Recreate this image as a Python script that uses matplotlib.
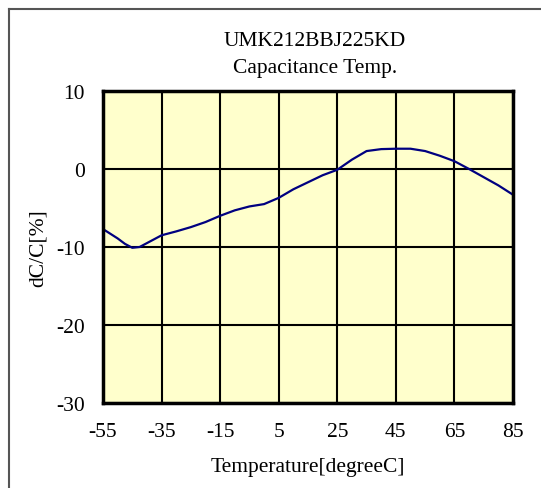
import matplotlib
matplotlib.use('Agg')
import matplotlib.pyplot as plt
from matplotlib.lines import Line2D

# Datos
temp = [-55, -50, -47.5, -45, -42.5, -40, -35, -30, -25, -20, -15, -10, -5, 0, 5,
        10, 15, 20, 25, 30, 35, 40, 45, 50, 55, 60, 65, 70, 75, 80, 85]
dcc = [-7.7, -8.9, -9.6, -10.1, -10.0, -9.5, -8.5, -8.0, -7.45, -6.8, -6.0, -5.3,
       -4.8, -4.5, -3.7, -2.6, -1.7, -0.8, -0.1, 1.2, 2.3, 2.55, 2.6, 2.6, 2.3,
       1.7, 1.0, 0.0, -1.05, -2.1, -3.3]

xticks = [-55, -35, -15, 5, 25, 45, 65, 85]
yticks = [-30, -20, -10, 0, 10]

plt.rcParams['font.family'] = ['Liberation Serif', 'DejaVu Serif']
plt.rcParams['axes.unicode_minus'] = False

W, H = 541, 489
fig = plt.figure(figsize=(W/100, H/100), dpi=100)
ax = fig.add_axes([103/W, 1 - 404/H, (513-103)/W, (404-92)/H])
ax.set_facecolor('#FFFFCC')

ax.plot(temp, dcc, color='#000080', lw=1.6, zorder=3)

ax.set_xlim(-55, 85)
ax.set_ylim(-30, 10)
ax.set_xticks(xticks)
ax.set_yticks(yticks)
ax.tick_params(length=0, labelsize=15.5, pad=14)
ax.tick_params(axis='y', pad=13)
ax.grid(True, color='black', lw=1.5, zorder=1)
for s in ax.spines.values():
    s.set_linewidth(2.5)
    s.set_zorder(4)

ax.set_xlabel('Temperature[degreeC]', fontsize=15.5, labelpad=11)
ax.set_ylabel('dC/C[%]', fontsize=15.5, labelpad=6)

fig.text(315/W, 1 - 41/H, 'UMK212BBJ225KD', fontsize=15.5, ha='center', va='center')
fig.text(315/W, 1 - 68/H, 'Capacitance Temp.', fontsize=15.5, ha='center', va='center')

# Borde exterior (solo arriba e izquierda visibles)
fig.add_artist(Line2D([8.5/W, 8.5/W], [0, 1 - 9.5/H], transform=fig.transFigure,
                      color='#555555', lw=1.5))
fig.add_artist(Line2D([8.5/W, 1], [1 - 9.5/H, 1 - 9.5/H], transform=fig.transFigure,
                      color='#555555', lw=1.5))

fig.savefig('out.png', dpi=100)
